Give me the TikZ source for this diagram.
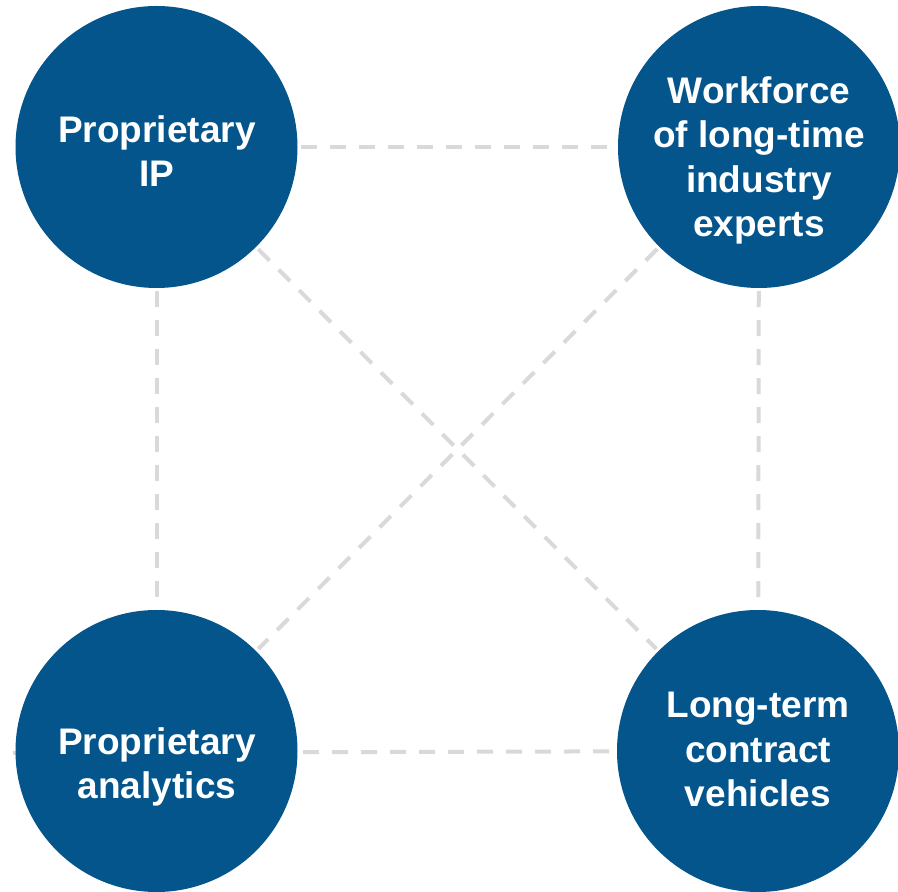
\documentclass[tikz,border=0pt]{standalone}
\usepackage{fontspec}
\setmainfont{Liberation Sans}
\usetikzlibrary{backgrounds}
\definecolor{hubblue}{RGB}{3,85,140}
\definecolor{linkgray}{RGB}{217,217,217}
\begin{document}
\begin{tikzpicture}[x=1pt,y=1pt,
  hub/.style={circle,fill=hubblue,draw=none,minimum size=282pt,inner sep=0pt},
  caption/.style={anchor=north,inner sep=0pt,text=white,align=center,
    font=\fontsize{37}{44.5}\selectfont\bfseries},
  link/.style={draw=linkgray,line width=4pt,dash pattern=on 16pt off 13pt,
    shorten >=3pt,shorten <=3pt}]
\useasboundingbox (0,0) rectangle (898,892);

% the four pillars
\node[hub] (tl) at (156.5,745) {};
\node[hub] (tr) at (759,745) {};
\node[hub] (bl) at (156.5,141) {};
\node[hub] (br) at (758,141) {};

\node[caption] (tltext) at (157,777) {Proprietary\\IP};
\node[caption] (trtext) at (759,816) {Workforce\\of long-time\\industry\\experts};
\node[caption] (bltext) at (157,165) {Proprietary\\analytics};
\node[caption] (brtext) at (758,200) {Long-term\\contract\\vehicles};

\coordinate (stub) at (13,139);

% dashed links behind the circles
\begin{pgfonlayer}{background}
\draw[link] (tl) -- (tr);
\draw[link] (tl) -- (bl);
\draw[link] (tr) -- (br);
\draw[link,shorten <=0pt] (stub) -- (br);
\draw[link] (tl) -- (br);
\draw[link] (tr) -- (bl);
\end{pgfonlayer}
\end{tikzpicture}
\end{document}
